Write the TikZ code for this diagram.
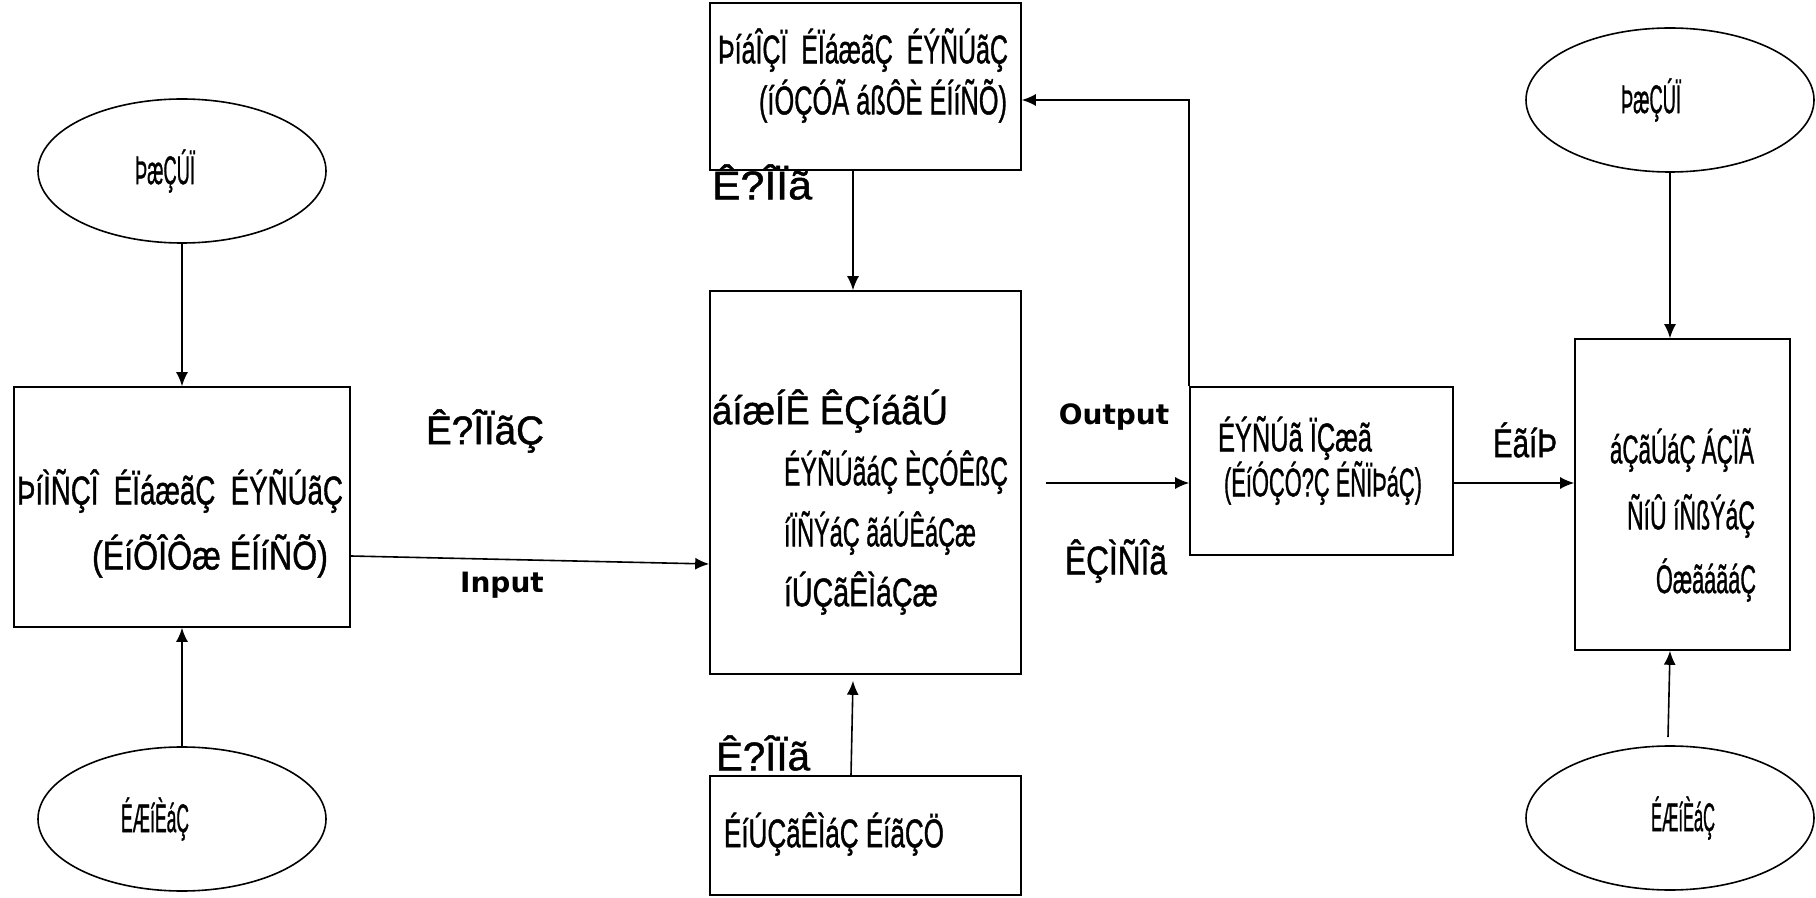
\documentclass[tikz,border=0pt]{standalone}
\usepackage{fontspec}
\usepackage{graphicx}
\setmainfont{Liberation Sans}
\newfontfamily\moji[FakeBold=1.2]{Liberation Sans}
\newfontfamily\labfont{DejaVu Sans}
\usetikzlibrary{arrows.meta,shapes.geometric}
\newcommand\fw[2]{\resizebox{#1}{\height}{#2}}
\begin{document}
\begin{tikzpicture}[x=0.5pt,y=-0.5pt, line width=0.8pt,
  box/.style={draw, rectangle, inner sep=0pt},
  ell/.style={draw, ellipse, minimum width=144pt, minimum height=72pt, inner sep=0pt},
  txt/.style={font=\moji\fontsize{20}{24}\selectfont, inner sep=0pt},
  eng/.style={font=\labfont\bfseries\fontsize{14}{17}\selectfont, inner sep=0pt},
  arr/.style={-{Latex[length=7pt,width=6pt]}}]
\useasboundingbox (0,0) rectangle (1816,898);

% ellipses
\node[ell] (LT) at (182,171) {};
\node[ell] (LB) at (182,819) {};
\node[ell] (RT) at (1670,100) {};
\node[ell] (RB) at (1670,818) {};

% boxes
\node[box, minimum width=168pt, minimum height=120pt] (L) at (182,507) {};
\node[box, minimum width=155.5pt, minimum height=83.5pt] (T) at (865.5,86.5) {};
\node[box, minimum width=155.5pt, minimum height=191.5pt] (C) at (865.5,482.5) {};
\node[box, minimum width=155.5pt, minimum height=59.5pt] (B) at (865.5,835.5) {};
\node[box, minimum width=131.5pt, minimum height=84pt] (M) at (1321.5,471) {};
\node[box, minimum width=107.5pt, minimum height=155.5pt] (R) at (1682.5,494.5) {};

% ellipse texts
\node[txt] (tLT) at (165,171) {\fw{30pt}{ÞæÇÚÏ}};
\node[txt] (tLB) at (155,819) {\fw{34pt}{ÉÆíÈáÇ}};
\node[txt] (tRT) at (1651,100) {\fw{30pt}{ÞæÇÚÏ}};
\node[txt] (tRB) at (1683,818) {\fw{32pt}{ÉÆíÈáÇ}};

% box texts
\node[txt] (tT1) at (863,50) {\fw{145pt}{ÞíáÎÇÏ\ \ ÉÏáæãÇ\ \ ÉÝÑÚãÇ}};
\node[txt] (tT2) at (883,101) {\fw{124pt}{(íÓÇÓÃ áßÔÈ ÉÍíÑÕ)}};
\node[txt] (tL1) at (180,491) {\fw{163pt}{ÞíÌÑÇÎ\ \ ÉÏáæãÇ\ \ ÉÝÑÚãÇ}};
\node[txt] (tL2) at (210,556) {\fw{118pt}{(ÉíÕÎÔæ ÉÍíÑÕ)}};
\node[txt] (tC1) at (830,411) {\fw{118pt}{áíæÍÊ ÊÇíáãÚ}};
\node[txt] (tC2) at (896,472) {\fw{112pt}{ÉÝÑÚãáÇ ÈÇÓÊßÇ}};
\node[txt] (tC3) at (880,533) {\fw{96pt}{íÏÑÝáÇ ãáÚÊáÇæ}};
\node[txt] (tC4) at (861,593) {\fw{77pt}{íÚÇãÊÌáÇæ}};
\node[txt] (tM1) at (1295,438) {\fw{77pt}{ÉÝÑÚã ÏÇæã}};
\node[txt] (tM2) at (1323,483) {\fw{99pt}{(ÉíÓÇÓ?Ç ÉÑÏÞáÇ)}};
\node[txt] (tR1) at (1682,450) {\fw{72pt}{áÇãÚáÇ ÁÇÏÃ}};
\node[txt] (tR2) at (1691,516) {\fw{64pt}{ÑíÛ íÑßÝáÇ}};
\node[txt] (tR3) at (1706,580) {\fw{50pt}{ÓæãáãáÇ}};
\node[txt] (tB1) at (834,834) {\fw{110pt}{ÉíÚÇãÊÌáÇ ÉíãÇÖ}};

% connector labels
\node[txt] (lT) at (762,182) {\fw{50pt}{Ê?ÎÏã}};
\node[txt] (lL) at (485,431) {\fw{59pt}{Ê?ÎÏãÇ}};
\node[eng] (lIn) at (502,585) {Input};
\node[eng] (lOut) at (1114,417) {Output};
\node[txt] (lO) at (1116,561) {\fw{51pt}{ÊÇÌÑÎã}};
\node[txt] (lV) at (1525,440) {\fw{32pt}{ÉãíÞ}};
\node[txt] (lB) at (763,753) {\fw{47pt}{Ê?ÎÏã}};

% connectors
\draw[arr] (LT.south) -- (L.north);
\draw[arr] (LB.north) -- (L.south);
\draw[arr] ([yshift=-24.5pt]L.east) -- ([yshift=-40.75pt]C.west);
\draw[arr] ([xshift=-6.25pt]T.south) -- ([xshift=-6.25pt]C.north);
\draw[arr] ([xshift=-7.25pt]B.north) -- ([xshift=-6.25pt,yshift=-3pt]C.south);
\coordinate (oS) at (1046,483);
\draw[arr] (oS) -- (oS -| M.west);
\coordinate (tF) at ([yshift=-6.75pt]T.east);
\draw[arr] (M.north west) |- (tF);
\draw[arr] ([yshift=-6pt]M.east) -- ([yshift=-6pt]M.east -| R.west);
\draw[arr] (RT.south) -- (RT.south |- R.north);
\coordinate (rB) at (1668,737);
\draw[arr] (rB) -- ([xshift=-6.25pt]R.south);
\end{tikzpicture}
\end{document}
